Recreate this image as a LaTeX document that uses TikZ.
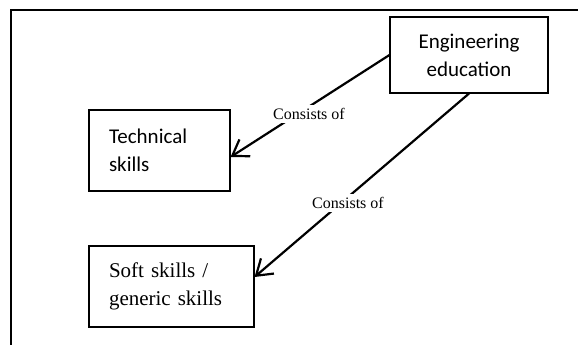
\documentclass[tikz,border=0pt]{standalone}
\usepackage{fontspec}
\setmainfont{Liberation Serif}
\newfontfamily\calibrifont{Carlito}
\usepackage{tikz}
\usetikzlibrary{calc, arrows.meta}
\usetikzlibrary{positioning}

\begin{document}
\begin{tikzpicture}[x=1pt,y=-1pt,
    box/.style={draw,line width=1.1pt,inner xsep=20pt,inner ysep=0pt,font=\fontsize{21}{28}\selectfont},
    arr/.style={line width=2.2pt,-{Straight Barb[length=15pt,width=20pt,line width=2.2pt]}},
    lbl/.style={fill=white,inner sep=3pt,font=\fontsize{16}{18}\selectfont}]
        \useasboundingbox (0,0) rectangle (578,345);
        \coordinate (fb) at (11,346);
        \coordinate (fc) at (11,10);
        \coordinate (fr) at (578,10);
        \draw[line width=2pt] (fb) -- (fc) -- (fr);
        \node[box,minimum width=158pt,minimum height=76pt,align=center,font=\calibrifont\fontsize{21}{28}\selectfont] (eng) at (469,55) {Engineering\\education};
        \node[box,minimum height=81pt,text width=101pt,align=left,font=\calibrifont\fontsize{21}{28}\selectfont] (tech) at (159.5,150.5) {Technical\\skills};
        \node[box,minimum height=81pt,text width=125pt,align=left] (soft) at (171.5,286.5) {Soft skills /\\generic skills};
        \draw[arr] (eng.west) -- ([yshift=-6.5pt]tech.east);
        \draw[arr] (eng.south) -- ([yshift=9.5pt]soft.east);
        \node[lbl] (cons1) at (309,114) {Consists of};
        \node[lbl] (cons2) at (348,203) {Consists of};
    \end{tikzpicture}
\end{document}
